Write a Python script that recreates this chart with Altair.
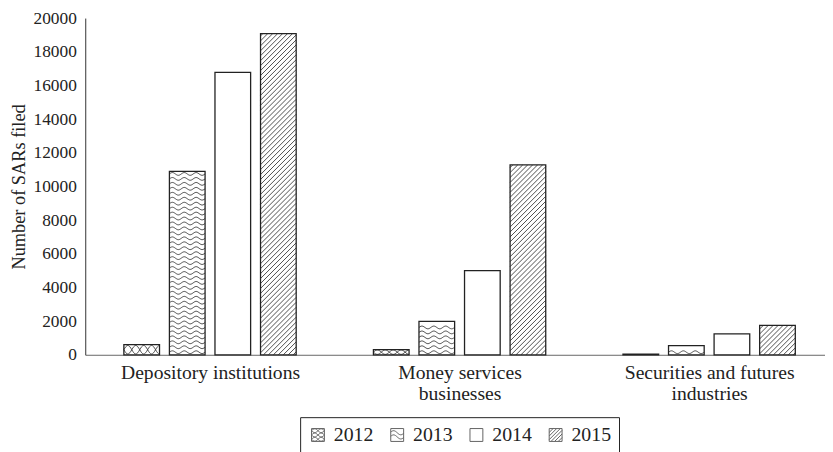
import json
import math
import altair as alt
import pandas as pd

# ---------------- data ----------------
categories = ["Depository institutions", "Money services\nbusinesses", "Securities and futures\nindustries"]
years = ["2012", "2013", "2014", "2015"]
sars_2012 = [600, 310, 40]
sars_2013 = [10900, 1980, 550]
sars_2014 = [16780, 5000, 1240]
sars_2015 = [19080, 11280, 1750]
y_ticks = [0, 2000, 4000, 6000, 8000, 10000, 12000, 14000, 16000, 18000, 20000]
y_title = "Number of SARs filed"

series = {"2012": sars_2012, "2013": sars_2013, "2014": sars_2014, "2015": sars_2015}

# ---------------- layout constants ----------------
W, H = 747, 340          # plot area in px
GROUP_PX = 252           # width of one category group
STEP_PX = 46             # distance between bars in a group
BAR_PX = 36              # bar width
YMAX = 20000
XMAX = W / GROUP_PX
FONT = "Liberation Serif"

def to_x(px):
    return px / GROUP_PX

def to_y(px):
    return px * YMAX / H

# bars
bar_rows = []
for g, cat in enumerate(categories):
    for k, yr in enumerate(years):
        c = g + 0.5 + (k - 1.5) * STEP_PX / GROUP_PX
        bar_rows.append({"category": cat, "year": yr,
                         "x0": c - BAR_PX / 2 / GROUP_PX,
                         "x1": c + BAR_PX / 2 / GROUP_PX,
                         "value": series[yr][g]})
bars = pd.DataFrame(bar_rows)

# fill patterns (decoration derived from each bar's extent)
hatch_rows = []   # 2015 diagonal hatching
wave_rows = []    # 2013 wavy lines, 2012 chain of ovals
line_id = 0
for b in bar_rows:
    x0p, x1p = b["x0"] * GROUP_PX, b["x1"] * GROUP_PX
    hp = b["value"] * H / YMAX
    if b["year"] == "2015":
        s = 5.0
        n0 = math.floor((x0p - hp) / s)
        n1 = math.ceil(x1p / s)
        for n in range(n0, n1 + 1):
            c = n * s
            lo = max(0.0, x0p - c)
            hi = min(hp, x1p - c)
            if hi - lo > 0.4:
                hatch_rows.append({"hx": to_x(lo + c), "hy": to_y(lo),
                                   "hx2": to_x(hi + c), "hy2": to_y(hi)})
    elif b["year"] == "2013":
        lam, amp, sp = 12.0, 1.4, 5.0
        base = amp + 1.2
        while base <= hp - amp - 0.6:
            npts = int(BAR_PX) + 1
            for i in range(npts):
                xp = x0p + i * (x1p - x0p) / (npts - 1)
                yp = base + amp * math.sin(2 * math.pi * (xp - x0p) / lam)
                wave_rows.append({"wid": line_id, "wi": i, "wx": to_x(xp), "wy": to_y(yp)})
            line_id += 1
            base += sp
    elif b["year"] == "2012" and hp > 2.5:
        lam = 16.0
        nrows = max(1, round(hp / 7.0))
        rh = hp / nrows
        for r in range(nrows):
            yc = (r + 0.5) * rh
            a = rh / 2 * 0.85
            for sign in (1, -1):
                npts = int(BAR_PX) + 1
                for i in range(npts):
                    xp = x0p + i * (x1p - x0p) / (npts - 1)
                    yp = yc + sign * a * math.sin(2 * math.pi * (xp - x0p) / lam)
                    wave_rows.append({"wid": line_id, "wi": i, "wx": to_x(xp), "wy": to_y(yp)})
                line_id += 1

hatch = pd.DataFrame(hatch_rows)
waves = pd.DataFrame(wave_rows)

# legend symbol paths (unit square -1..1, y down)
def f(v):
    return f"{v:.3f}"

square = "M-1,-1H1V1H-1Z"
p2015 = square
c = -1.4
while c < 1.45:
    xa, xb = max(-1, c - 1), min(1, c + 1)
    if xb - xa > 0.05:
        p2015 += f"M{f(xa)},{f(c - xa)}L{f(xb)},{f(c - xb)}"
    c += 0.56
p2013 = square
for y0 in (-0.35, 0.3):
    pts = [(-1 + i * 2 / 16, y0 + 0.32 * math.sin(math.pi * (-1 + i * 2 / 16) * 0.9)) for i in range(17)]
    p2013 += "M" + "L".join(f"{f(x)},{f(y)}" for x, y in pts)
p2012 = square
for yc in (-2 / 3, 0, 2 / 3):
    for sign in (1, -1):
        pts = [(-1 + i * 2 / 16, yc + sign * 0.3 * math.sin(math.pi * (i * 2 / 16))) for i in range(17)]
        p2012 += "M" + "L".join(f"{f(x)},{f(y)}" for x, y in pts)
legend_paths = [p2012, p2013, square, p2015]
legend_df = pd.DataFrame({"year": years})

# ---------------- chart ----------------
label_lines = json.dumps([c.split("\n") for c in categories])
xscale = alt.Scale(domain=[0, XMAX], nice=False, zero=False)
yscale = alt.Scale(domain=[0, YMAX], nice=False)
xaxis = alt.Axis(values=[0.5, 1.5, 2.5], labelExpr=f"{label_lines}[floor(datum.value)]",
                 ticks=False, grid=False, domainColor="#666", domainWidth=1,
                 labelFont=FONT, labelFontSize=19.8, labelColor="#222", labelPadding=8,
                 labelLineHeight=21, labelAngle=0, labelBaseline="top", labelLimit=0,
                 labelOverlap=False, labelFlush=False, labelBound=False, title=None)
yaxis = alt.Axis(values=y_ticks, format="d", ticks=False, grid=False, domainColor="#333",
                 domainWidth=1, labelFont=FONT, labelFontSize=17.5, labelColor="#222",
                 labelPadding=9, title=y_title, titleFont=FONT, titleFontSize=18.5,
                 titleFontWeight="normal", titleColor="#222", titlePadding=5, labelFlush=False)

base_bar = alt.Chart(bars).encode(
    x=alt.X("x0:Q", scale=xscale, axis=xaxis),
    x2="x1:Q",
    y=alt.Y("value:Q", scale=yscale, axis=yaxis),
    y2=alt.datum(0),
)
bar_fill = base_bar.mark_rect(fill="white", stroke=None)
bar_outline = base_bar.mark_rect(fill=None, filled=False, stroke="#222", strokeWidth=1.3)

hatch_layer = alt.Chart(hatch).mark_rule(stroke="#222", strokeWidth=0.8).encode(
    x=alt.X("hx:Q", scale=xscale, axis=xaxis),
    x2="hx2:Q",
    y=alt.Y("hy:Q", scale=yscale, axis=yaxis),
    y2="hy2:Q",
)

wave_layer = alt.Chart(waves).mark_line(stroke="#222", strokeWidth=0.8).encode(
    x=alt.X("wx:Q", scale=xscale, axis=xaxis),
    y=alt.Y("wy:Q", scale=yscale, axis=yaxis),
    detail="wid:N",
    order="wi:Q",
)

legend_layer = alt.Chart(legend_df).mark_point(filled=False, stroke="#222", clip=True).encode(
    x=alt.value(-200),
    y=alt.value(-200),
    shape=alt.Shape("year:N", scale=alt.Scale(domain=years, range=legend_paths),
                    legend=alt.Legend(orient="none", legendX=217, legendY=403,
                                      direction="horizontal", columns=4, title=None,
                                      strokeColor="#222", fillColor="white", padding=8,
                                      labelFont=FONT, labelFontSize=20, labelColor="#222",
                                      labelOffset=6, columnPadding=14,
                                      symbolSize=169, symbolStrokeWidth=1,
                                      symbolStrokeColor="#222", symbolFillColor="white")),
)

chart = alt.layer(bar_fill, hatch_layer, wave_layer, bar_outline, legend_layer).properties(
    width=W, height=H,
    autosize=alt.AutoSizeParams(type="none"),
    padding={"left": 78, "top": 8, "right": 0, "bottom": 96},
    background="white",
).configure(font=FONT).configure_view(stroke=None)

chart.save("out.html", embed_options={"renderer": "svg", "actions": False})
